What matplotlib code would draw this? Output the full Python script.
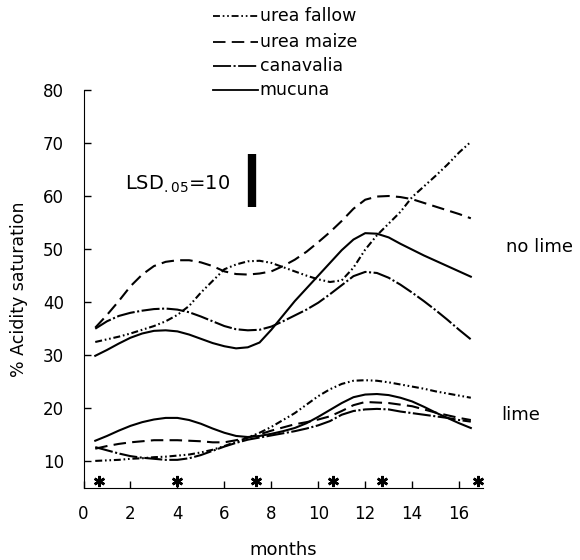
import matplotlib
matplotlib.use("Agg")
import matplotlib.pyplot as plt
from matplotlib.lines import Line2D

plt.rcParams['font.family'] = 'DejaVu Sans'
plt.rcParams['lines.scale_dashes'] = False

months = [0.5, 1, 1.5, 2, 2.5, 3, 3.5, 4, 4.5, 5, 5.5, 6, 6.5, 7, 7.5, 8, 8.5,
          9, 9.5, 10, 10.5, 11, 11.5, 12, 12.5, 13, 13.5, 14, 14.5, 15, 15.5, 16, 16.5]

# no lime
fallow_nolime = [32.5, 33.0, 33.5, 34.1, 34.8, 35.5, 36.4, 37.6, 39.3, 41.8, 44.0, 46.2, 47.1, 47.7, 47.8, 47.4, 46.6,
                 45.8, 45.0, 44.3, 43.8, 44.1, 46.5, 49.9, 52.6, 54.8, 57.0, 59.8, 61.8, 63.8, 65.9, 68.2, 70.2]
maize_nolime = [35.2, 37.6, 40.2, 43.0, 45.2, 46.8, 47.6, 47.9, 47.9, 47.5, 46.8, 45.8, 45.3, 45.2, 45.4, 45.8, 46.8,
                48.0, 49.5, 51.3, 53.2, 55.3, 57.6, 59.3, 59.9, 60.0, 59.8, 59.4, 58.7, 58.0, 57.3, 56.6, 55.8]
canavalia_nolime = [35.0, 36.4, 37.4, 38.0, 38.4, 38.7, 38.8, 38.6, 38.1, 37.3, 36.4, 35.5, 34.9, 34.7, 34.8, 35.4, 36.4,
                    37.5, 38.6, 39.9, 41.5, 43.2, 44.9, 45.7, 45.5, 44.6, 43.3, 41.8, 40.2, 38.5, 36.7, 34.8, 33.0]
mucuna_nolime = [29.9, 31.0, 32.2, 33.3, 34.1, 34.6, 34.7, 34.5, 33.9, 33.1, 32.3, 31.7, 31.3, 31.5, 32.4, 34.8, 37.5,
                 40.2, 42.6, 45.0, 47.4, 49.8, 51.8, 53.0, 52.9, 52.2, 51.0, 49.9, 48.8, 47.8, 46.8, 45.8, 44.8]

# lime
fallow_lime = [10.1, 10.2, 10.3, 10.5, 10.6, 10.8, 10.9, 11.1, 11.3, 11.7, 12.2, 12.9, 13.7, 14.5, 15.4, 16.5, 17.8,
               19.1, 20.7, 22.3, 23.6, 24.6, 25.2, 25.3, 25.2, 24.9, 24.5, 24.1, 23.7, 23.2, 22.8, 22.4, 22.0]
maize_lime = [12.4, 12.9, 13.3, 13.6, 13.8, 14.0, 14.0, 14.0, 13.9, 13.8, 13.6, 13.6, 14.0, 14.5, 15.1, 15.8, 16.4,
              17.0, 17.4, 17.9, 18.5, 19.5, 20.6, 21.2, 21.1, 21.0, 20.7, 20.4, 19.8, 19.2, 18.7, 18.2, 17.8]
canavalia_lime = [12.7, 12.1, 11.5, 11.0, 10.7, 10.5, 10.3, 10.3, 10.6, 11.2, 12.0, 12.8, 13.5, 14.1, 14.5, 14.9, 15.3,
                  15.7, 16.2, 16.8, 17.6, 18.8, 19.5, 19.8, 19.9, 19.8, 19.4, 19.1, 18.8, 18.5, 18.2, 17.8, 17.5]
mucuna_lime = [13.9, 14.8, 15.8, 16.7, 17.4, 17.9, 18.2, 18.2, 17.8, 17.1, 16.2, 15.4, 14.8, 14.6, 14.8, 15.2, 15.7,
               16.3, 17.2, 18.4, 19.7, 21.0, 22.1, 22.6, 22.7, 22.5, 22.0, 21.3, 20.3, 19.2, 18.2, 17.2, 16.3]

# sampling dates (asterisks)
sample_months = [0.68, 3.97, 7.35, 10.62, 12.73, 16.82]
sample_level = 6.4

labels = ['urea fallow', 'urea maize', 'canavalia', 'mucuna']
dash_styles = [(0, (5, 2, 1.2, 2, 1.2, 2)), (0, (9, 4.5)), (0, (13, 1.8, 1.5, 1.8)), '-']

fig = plt.figure(figsize=(5.8, 5.6), dpi=100)
ax = fig.add_axes([0.144, 0.1286, 0.688, 0.711])

groups = [
    [fallow_nolime, maize_nolime, canavalia_nolime, mucuna_nolime],
    [fallow_lime, maize_lime, canavalia_lime, mucuna_lime],
]
for grp in groups:
    for vals, ls in zip(grp, dash_styles):
        ax.plot(months, vals, color='black', linestyle=ls, linewidth=1.5)

ax.plot(sample_months, [sample_level] * len(sample_months), linestyle='none',
        marker=(6, 2, 0), markersize=8, markeredgewidth=1.8, color='black')

# LSD bar
ax.plot([7.17, 7.17], [58, 68], color='black', linewidth=6, solid_capstyle='butt')
fig.text(0.2155, 0.6607, r'LSD$_{.05}$=10', fontsize=14, ha='left', va='baseline')

ax.set_xlim(0, 17)
ax.set_ylim(5, 80)
ax.set_xticks(range(0, 17, 2))
ax.set_yticks(range(10, 81, 10))
ax.spines['top'].set_visible(False)
ax.spines['right'].set_visible(False)
ax.tick_params(direction='in', length=5, width=1, labelsize=12)
ax.tick_params(axis='y', pad=14)
ax.tick_params(axis='x', pad=12)
ax.set_xlabel('months', fontsize=13, labelpad=13)
ax.set_ylabel('% Acidity saturation', fontsize=12.5, labelpad=11)

fig.text(0.931, 0.559, 'no lime', fontsize=13, ha='center', va='center')
fig.text(0.897, 0.259, 'lime', fontsize=13, ha='center', va='center')

# legend drawn by hand above the axes
rows_y = [0.971, 0.9255, 0.882, 0.839]
for lab, ls, yy in zip(labels, dash_styles, rows_y):
    fig.add_artist(Line2D([0.367, 0.445], [yy, yy], transform=fig.transFigure,
                          color='black', linestyle=ls, linewidth=1.3))
    fig.text(0.448, yy, lab, fontsize=12.5, ha='left', va='center')

fig.savefig('out.png', dpi=100)
